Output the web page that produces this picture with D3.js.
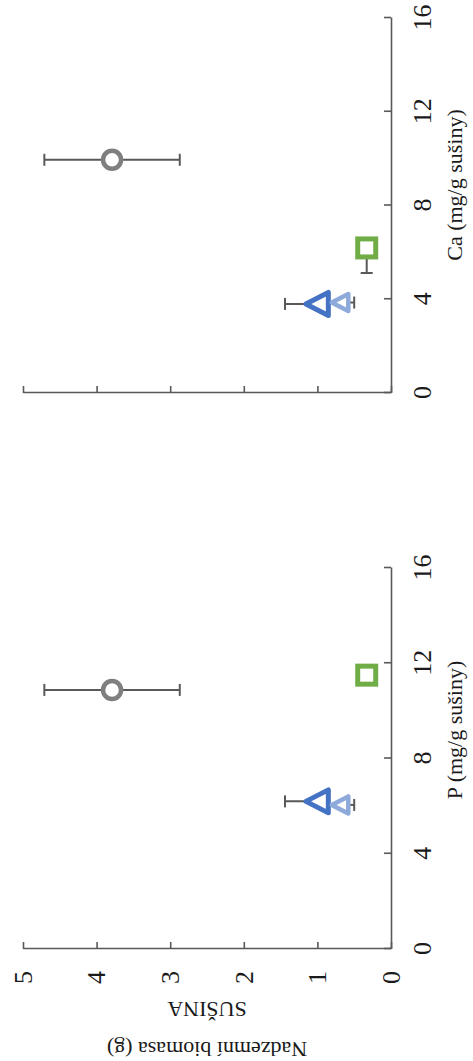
<!DOCTYPE html>
<html><head><meta charset="utf-8">
<script src="https://cdn.jsdelivr.net/npm/d3@7"></script>
<style>body{margin:0;background:#fff}svg{display:block}</style>
</head><body><svg id="c" width="473" height="1061"></svg>
<script>
// ---- data ----
const xTicks = [0, 4, 8, 12, 16];
const yTicks = [0, 1, 2, 3, 4, 5];
const seriesNames = ['s1', 's2', 's3', 's4'];
const biomass = [3.79, 0.33, 1.0, 0.69];
const biomassErrPlus = [0.92, 0, 0.44, 0];
const biomassErrMinus = [0.92, 0, 0, 0.19];
const pValues = [10.88, 11.5, 6.2, 6.05];
const pErrMinus = [0, 0, 0, 0];
const caValues = [9.95, 6.19, 3.8, 3.86];
const caErrMinus = [0, 1.07, 0, 0];
const panelTitles = ['P (mg/g sušiny)', 'Ca (mg/g sušiny)'];
const yTitleLines = ['Nadzemní biomasa (g)', 'SUŠINA'];

// ---- styles ----
const markerStyles = [
  {shape: 'circle', color: '#7f7f7f', size: 9, sw: 4.5},
  {shape: 'square', color: '#70ad47', size: 9, sw: 5},
  {shape: 'triangle', color: '#4472c4', size: 11.5, sw: 5},
  {shape: 'triangle', color: '#8eaadb', size: 8.5, sw: 4.5}
];
const axisColor = '#595959';
const errColor = '#595959';
const font = "'Liberation Serif', 'Times New Roman', serif";

const svg = d3.select('#c');
// chart drawn in its original (landscape) orientation, then rotated
const root = svg.append('g').attr('transform', 'translate(0,1061) rotate(-90)');

const y = d3.scaleLinear().domain([0, 5]).range([391, 23]);

const panels = [
  {title: panelTitles[0], xs: pValues, xerr: pErrMinus, range: [112, 493], showYLabels: true, titleX: 331},
  {title: panelTitles[1], xs: caValues, xerr: caErrMinus, range: [668, 1043], showYLabels: false, titleX: 876}
];

panels.forEach(p => {
  const x = d3.scaleLinear().domain([0, 16]).range(p.range);
  const g = root.append('g');

  // x axis
  const ax = g.append('g').attr('transform', `translate(0,${y(0)})`)
    .call(d3.axisBottom(x).tickValues(xTicks).tickSize(-7).tickSizeOuter(0).tickFormat(d3.format('d')));
  ax.select('.domain').attr('stroke', axisColor).attr('stroke-width', 1.6);
  ax.selectAll('.tick line').attr('stroke', axisColor).attr('stroke-width', 1.6);
  ax.selectAll('.tick text').attr('y', 40).attr('dy', null)
    .attr('font-family', font).attr('font-size', 26).attr('fill', '#1a1a1a');

  // y axis
  const ay = g.append('g').attr('transform', `translate(${p.range[0]},0)`)
    .call(d3.axisLeft(y).tickValues(yTicks).tickSize(-7).tickSizeOuter(0).tickPadding(22)
      .tickFormat(p.showYLabels ? d3.format('d') : () => ''));
  ay.select('.domain').attr('stroke', axisColor).attr('stroke-width', 1.6);
  ay.selectAll('.tick line').attr('stroke', axisColor).attr('stroke-width', 1.6);
  ay.selectAll('.tick text').attr('font-family', font).attr('font-size', 26).attr('fill', '#1a1a1a');

  // x title
  g.append('text').attr('x', p.titleX).attr('y', 462).attr('text-anchor', 'middle')
    .attr('font-family', font).attr('font-size', 22).attr('fill', '#1a1a1a').text(p.title);

  // error bars
  const eb = g.append('g').attr('stroke', errColor).attr('stroke-width', 2).attr('fill', 'none');
  seriesNames.forEach((s, i) => {
    const cx = x(p.xs[i]), cy = y(biomass[i]);
    const lo = biomass[i] - biomassErrMinus[i], hi = biomass[i] + biomassErrPlus[i];
    if (biomassErrPlus[i] > 0 || biomassErrMinus[i] > 0) {
      eb.append('line').attr('x1', cx).attr('x2', cx).attr('y1', y(lo)).attr('y2', y(hi));
      if (biomassErrPlus[i] > 0) eb.append('line').attr('x1', cx - 6).attr('x2', cx + 6).attr('y1', y(hi)).attr('y2', y(hi));
      if (biomassErrMinus[i] > 0) eb.append('line').attr('x1', cx - 6).attr('x2', cx + 6).attr('y1', y(lo)).attr('y2', y(lo));
    }
    if (p.xerr[i] > 0) {
      const xl = x(p.xs[i] - p.xerr[i]);
      eb.append('line').attr('x1', xl).attr('x2', cx).attr('y1', cy).attr('y2', cy);
      eb.append('line').attr('x1', xl).attr('x2', xl).attr('y1', cy - 6).attr('y2', cy + 6);
    }
  });

  // markers
  seriesNames.forEach((s, i) => {
    const st = markerStyles[i];
    const cx = x(p.xs[i]), cy = y(biomass[i]);
    let m;
    if (st.shape === 'circle') {
      m = g.append('circle').attr('cx', cx).attr('cy', cy).attr('r', st.size);
    } else if (st.shape === 'square') {
      m = g.append('rect').attr('x', cx - st.size).attr('y', cy - st.size)
        .attr('width', st.size * 2).attr('height', st.size * 2);
    } else {
      const h = st.size;
      m = g.append('path').attr('d', `M${cx},${cy - h}L${cx + h},${cy + h * 0.95}L${cx - h},${cy + h * 0.95}Z`)
        .attr('stroke-linejoin', 'round');
    }
    m.attr('fill', '#fff').attr('stroke', st.color).attr('stroke-width', st.sw);
  });
});

// y title (two lines)
const yc = (y(0) + y(5)) / 2;
const yt = root.append('text').attr('transform', `translate(0,${yc}) rotate(-90)`)
  .attr('text-anchor', 'middle').attr('font-family', font).attr('font-size', 22).attr('fill', '#1a1a1a');
yt.append('tspan').attr('x', 0).attr('y', 19).text(yTitleLines[0]);
yt.append('tspan').attr('x', 0).attr('y', 59).text(yTitleLines[1]);
</script>
</body></html>
